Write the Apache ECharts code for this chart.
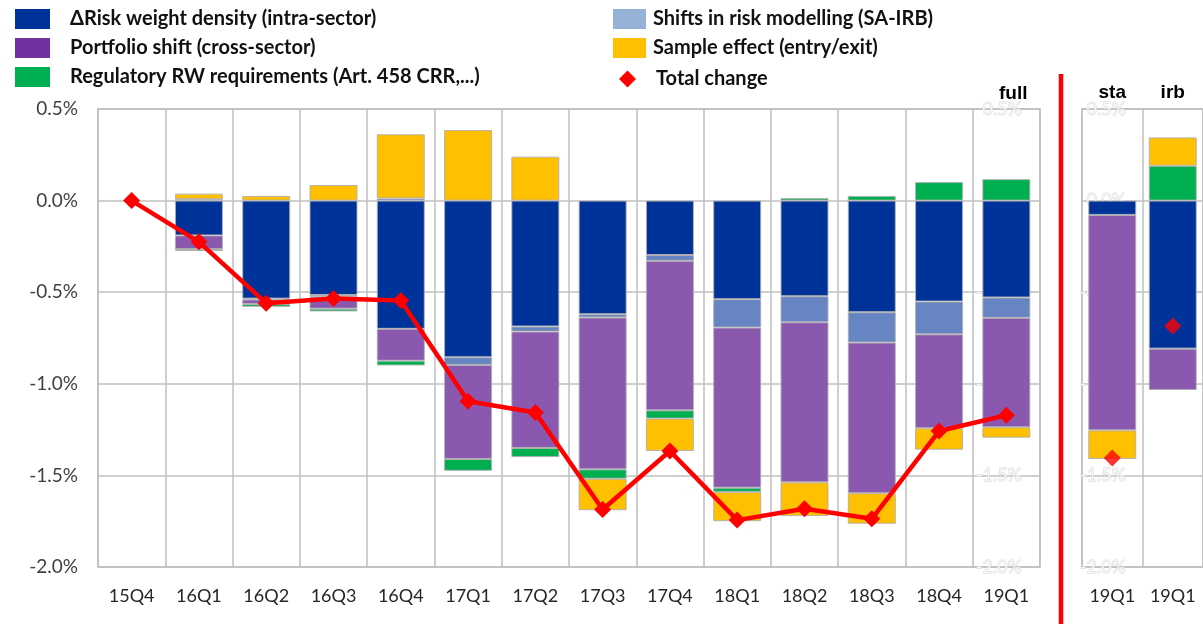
<!DOCTYPE html>
<html>
<head>
<meta charset="utf-8">
<script src="https://cdn.jsdelivr.net/npm/echarts@6/dist/echarts.min.js"></script>
<style>
  html, body { margin: 0; padding: 0; background: #fff; }
  #chart { width: 1203px; height: 624px; }
</style>
</head>
<body>
<div id="chart"></div>
<script>
// quarters of the "full" panel
const cats = ['15Q4','16Q1','16Q2','16Q3','16Q4','17Q1','17Q2','17Q3','17Q4','18Q1','18Q2','18Q3','18Q4','19Q1'];
// contributions, percentage points
const rwDensity  = [0, -0.19, -0.535, -0.515, -0.70, -0.855, -0.687, -0.62, -0.297, -0.538, -0.522, -0.609, -0.551, -0.529];
const modelShift = [0, 0.008, -0.005, -0.01, 0.012, -0.042, -0.028, -0.018, -0.032, -0.155, -0.142, -0.166, -0.179, -0.111];
const portfolio  = [0, -0.075, -0.025, -0.065, -0.174, -0.513, -0.635, -0.829, -0.816, -0.874, -0.874, -0.822, -0.513, -0.597];
const regulatory = [0, -0.01, -0.015, -0.015, -0.026, -0.065, -0.05, -0.051, -0.045, -0.023, 0.014, 0.025, 0.101, 0.117];
const sample     = [0, 0.03, 0.025, 0.085, 0.35, 0.385, 0.24, -0.172, -0.177, -0.16, -0.184, -0.167, -0.117, -0.057];
const total      = [0, -0.225, -0.56, -0.535, -0.545, -1.095, -1.157, -1.686, -1.367, -1.744, -1.682, -1.737, -1.258, -1.172];

// sta / irb split for 19Q1
const subCats = ['sta', 'irb'];
const subPeriod = '19Q1';
const subRwDensity  = [-0.078, -0.808];
const subModelShift = [0, 0];
const subPortfolio  = [-1.176, -0.226];
const subRegulatory = [0, 0.19];
const subSample     = [-0.156, 0.155];
const subTotal      = [-1.405, -0.684];

const names = ['\u0394Risk weight density (intra-sector)', 'Shifts in risk modelling (SA-IRB)',
  'Portfolio shift (cross-sector)', 'Regulatory RW requirements (Art. 458 CRR,...)',
  'Sample effect (entry/exit)', 'Total change'];
const barColors = ['#003399', '#6685C2', '#8B58B0', '#00B050', '#FFC000'];
const legendColors = ['#003399', '#95B3D7', '#7030A0', '#00B050', '#FFC000', '#FF0000'];

const FONT = 'Lato, "Open Sans", sans-serif';
const grid = '#bfbfbf';

function nz(arr) { return arr.map(v => v === 0 ? '-' : v); }

function barSeries(idx, data, axis) {
  return {
    name: names[idx], type: 'bar', stack: 'g' + axis,
    xAxisIndex: axis, yAxisIndex: axis,
    barWidth: 48,
    itemStyle: { color: barColors[idx], borderColor: 'rgba(175,175,175,0.9)', borderWidth: 1 },
    data: nz(data)
  };
}

const series = [
  barSeries(0, rwDensity, 0), barSeries(1, modelShift, 0), barSeries(2, portfolio, 0),
  barSeries(3, regulatory, 0), barSeries(4, sample, 0),
  {
    name: names[5], type: 'line', xAxisIndex: 0, yAxisIndex: 0, z: 5,
    symbol: 'diamond', symbolSize: 17,
    lineStyle: { color: '#ff0000', width: 4.5 },
    itemStyle: { color: '#ff0000' },
    data: total
  },
  barSeries(0, subRwDensity, 1), barSeries(1, subModelShift, 1), barSeries(2, subPortfolio, 1),
  barSeries(3, subRegulatory, 1), barSeries(4, subSample, 1),
  {
    name: names[5], type: 'scatter', xAxisIndex: 1, yAxisIndex: 1, z: 5,
    symbol: 'diamond', symbolSize: 17,
    itemStyle: { color: '#ff0000' },
    data: subTotal
  }
];

function legendItem(i, icon) {
  return { name: names[i], icon: icon || 'rect', itemStyle: { color: legendColors[i], borderWidth: 0 } };
}
const legendText = { fontFamily: FONT, fontWeight: 'bold', fontSize: 20, color: '#111', lineHeight: 20 };

const yBase = { type: 'value', min: -2, max: 0.5, interval: 0.5 };
const fmt = v => v.toFixed(1) + '%';
const ghostLabel = {
  fontFamily: FONT, fontSize: 18, color: '#f6f6f6',
  textBorderColor: '#d2d2d2', textBorderWidth: 0.8, align: 'right', formatter: fmt
};

const option = {
  animation: false,
  title: {
    text: 'full', left: 999, top: 84, padding: 0,
    textStyle: { fontFamily: 'Liberation Sans, Arial, sans-serif', fontWeight: 'bold', fontSize: 19, color: '#000' }
  },
  legend: [
    {
      orient: 'vertical', left: 10, top: 4, itemWidth: 35, itemHeight: 20, itemGap: 9,
      selectedMode: false, textStyle: Object.assign({ padding: [0, 0, 0, 15] }, legendText),
      data: [legendItem(0), legendItem(2), legendItem(3)]
    },
    {
      orient: 'vertical', left: 608, top: 4, itemWidth: 33, itemHeight: 20, itemGap: 9,
      selectedMode: false, textStyle: Object.assign({ padding: [0, 0, 0, 2] }, legendText),
      data: [legendItem(1), legendItem(4)]
    },
    {
      orient: 'vertical', left: 614, top: 64, itemWidth: 17, itemHeight: 17,
      selectedMode: false, textStyle: Object.assign({ padding: [0, 0, 0, 15] }, legendText),
      data: [legendItem(5, 'diamond')]
    }
  ],
  grid: [
    { left: 98, top: 109, width: 942, height: 458, show: true, borderColor: grid, borderWidth: 1.5 },
    { left: 1082, top: 109, width: 130, height: 458, show: true, borderColor: grid, borderWidth: 1.5 }
  ],
  xAxis: [
    {
      type: 'category', gridIndex: 0, data: cats,
      axisLine: { show: false }, axisTick: { show: false },
      splitLine: { show: true, interval: 0, lineStyle: { color: grid, width: 1.5 } },
      axisLabel: { margin: 20, fontFamily: FONT, fontSize: 18, color: '#262626' }
    },
    {
      type: 'category', gridIndex: 1, data: subCats,
      axisLine: { show: false }, axisTick: { show: false },
      splitLine: { show: true, interval: 0, lineStyle: { color: grid, width: 1.5 } },
      axisLabel: { margin: 20, fontFamily: FONT, fontSize: 18, color: '#262626', formatter: () => subPeriod }
    },
    {
      type: 'category', gridIndex: 1, data: subCats, position: 'top',
      axisLine: { show: false }, axisTick: { show: false }, splitLine: { show: false },
      axisLabel: { margin: 7, fontFamily: 'Liberation Sans, Arial, sans-serif', fontWeight: 'bold', fontSize: 19, color: '#000' }
    }
  ],
  yAxis: [
    Object.assign({}, yBase, {
      gridIndex: 0,
      axisLine: { show: false }, axisTick: { show: false },
      splitLine: { lineStyle: { color: grid, width: 1.5 } },
      axisLabel: { margin: 20, fontFamily: FONT, fontSize: 19, color: '#404040', formatter: fmt }
    }),
    Object.assign({}, yBase, {
      gridIndex: 1,
      axisLine: { show: false }, axisTick: { show: false },
      splitLine: { lineStyle: { color: grid, width: 1.5 } },
      axisLabel: { show: false }
    }),
    Object.assign({}, yBase, {
      gridIndex: 0, position: 'right',
      axisLine: { show: false }, axisTick: { show: false }, splitLine: { show: false },
      axisLabel: Object.assign({ margin: -18 }, ghostLabel)
    }),
    Object.assign({}, yBase, {
      gridIndex: 1, position: 'left',
      axisLine: { show: false }, axisTick: { show: false }, splitLine: { show: false },
      axisLabel: Object.assign({ margin: -44 }, ghostLabel)
    })
  ],
  graphic: [
    {
      type: 'line', z: 10,
      shape: { x1: 1061, y1: 74, x2: 1061, y2: 624 },
      style: { stroke: '#ff0000', lineWidth: 4.5 }
    }
  ],
  series: series
};

echarts.init(document.getElementById('chart')).setOption(option);
</script>
</body>
</html>
